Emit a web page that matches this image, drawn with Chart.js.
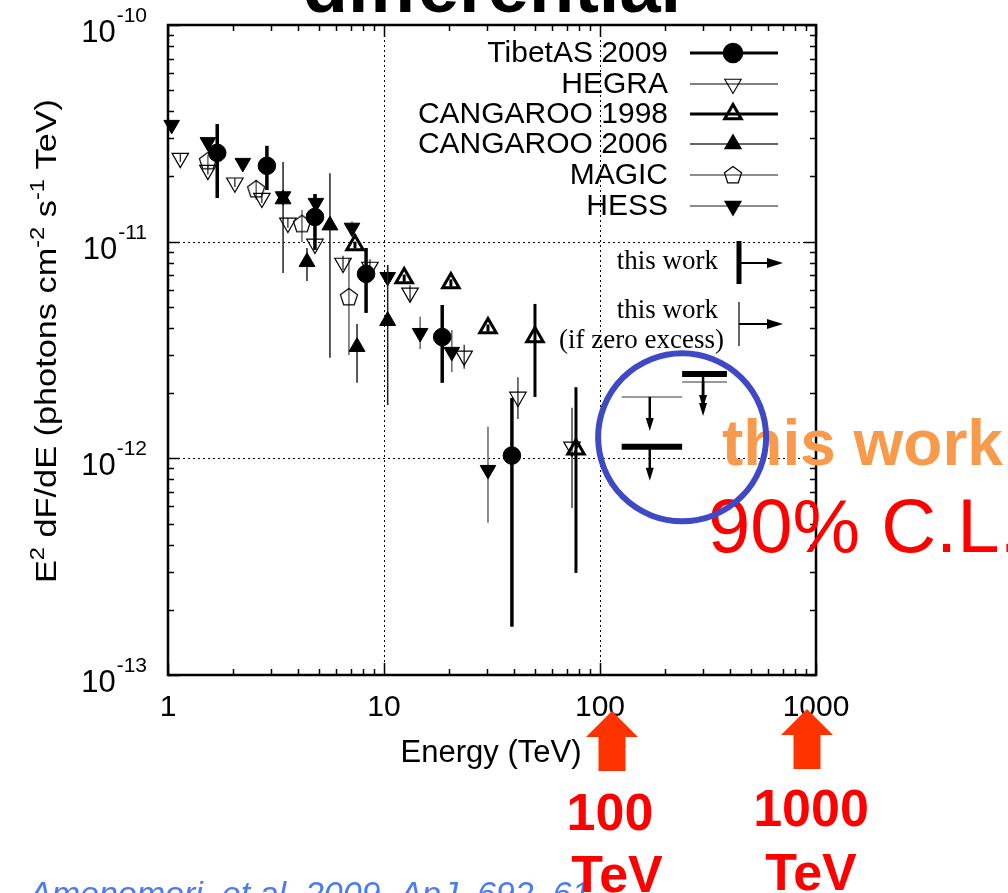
<!DOCTYPE html>
<html>
<head>
<meta charset="utf-8">
<script src="https://cdn.jsdelivr.net/npm/chart.js@4.4.1/dist/chart.umd.min.js"></script>
<style>
html, body { margin: 0; padding: 0; background: #fff; overflow: hidden; }
canvas { display: block; }
</style>
</head>
<body>
<canvas id="c" width="1008" height="893"></canvas>
<script>
// ---- Crab spectrum measurements: energy (TeV), E^2 dF/dE and its error range ----
const TIBET_E  = [1.69, 2.87, 4.79, 8.26, 18.6, 39.1];
const TIBET_F  = [2.57e-11, 2.24e-11, 1.30e-11, 7.1e-12, 3.63e-12, 1.03e-12];
const TIBET_LO = [1.59e-11, 1.73e-11, 9.16e-12, 4.69e-12, 2.23e-12, 1.67e-13];
const TIBET_HI = [3.49e-11, 2.77e-11, 1.66e-11, 9.35e-12, 5.1e-12, 1.9e-12];

const HEGRA_E  = [1.14, 1.53, 2.04, 2.72, 3.59, 4.79, 6.46, 8.61, 13.2, 23.5, 41.7, 74.2];
const HEGRA_F  = [2.43e-11, 2.14e-11, 1.87e-11, 1.59e-11, 1.22e-11, 9.76e-12, 7.97e-12, 7.64e-12, 5.80e-12, 2.97e-12, 1.92e-12, 1.13e-12];
const HEGRA_LO = [2.33e-11, 2.04e-11, 1.79e-11, 1.51e-11, 1.16e-11, 9.2e-12, 7.4e-12, 7.0e-12, 5.27e-12, 2.59e-12, 1.52e-12, 5.9e-13];
const HEGRA_HI = [2.55e-11, 2.25e-11, 1.96e-11, 1.68e-11, 1.29e-11, 1.04e-11, 8.6e-12, 8.3e-12, 6.3e-12, 3.34e-12, 2.37e-12, 1.71e-12];

const CANG98_E  = [7.34, 12.4, 20.4, 30.3, 50.0, 77.4];
const CANG98_F  = [9.66e-12, 6.80e-12, 6.45e-12, 4.0e-12, 3.63e-12, 1.10e-12];
const CANG98_LO = [9.3e-12, 6.55e-12, 6.2e-12, 3.85e-12, 1.92e-12, 2.96e-13];
const CANG98_HI = [1.0e-11, 7.05e-12, 6.7e-12, 4.15e-12, 5.16e-12, 2.13e-12];

const CANG06_E  = [3.41, 4.40, 5.62, 7.50, 10.4];
const CANG06_F  = [1.57e-11, 8.06e-12, 1.19e-11, 3.27e-12, 4.31e-12];
const CANG06_LO = [7.17e-12, 6.59e-12, 2.91e-12, 2.23e-12, 1.76e-12];
const CANG06_HI = [2.33e-11, 9.35e-12, 2.07e-11, 4.17e-12, 7.81e-12];

const MAGIC_E  = [1.53, 2.56, 4.17, 6.88];
const MAGIC_F  = [2.36e-11, 1.75e-11, 1.21e-11, 5.56e-12];
const MAGIC_LO = [2.2e-11, 1.56e-11, 9.97e-12, 3.0e-12];
const MAGIC_HI = [2.52e-11, 1.93e-11, 1.40e-11, 8.41e-12];

const HESS_E  = [1.04, 1.53, 2.22, 3.41, 4.84, 7.11, 10.4, 14.7, 20.6, 30.3];
const HESS_F  = [3.46e-11, 2.88e-11, 2.31e-11, 1.62e-11, 1.51e-11, 1.16e-11, 6.87e-12, 3.79e-12, 3.10e-12, 8.84e-13];
const HESS_LO = [3.35e-11, 2.79e-11, 2.24e-11, 1.55e-11, 1.40e-11, 1.08e-11, 6.3e-12, 3.20e-12, 2.5e-12, 5.04e-13];
const HESS_HI = [3.57e-11, 2.97e-11, 2.38e-11, 1.69e-11, 1.66e-11, 1.24e-11, 7.81e-12, 4.50e-12, 3.91e-12, 1.40e-12];

// 90% C.L. upper limits (this work): energy of arrow, bin edges, flux limit
const UL_E     = [170, 300];
const UL_EMIN  = [126, 240];
const UL_EMAX  = [240, 387];
const UL_F     = [1.13e-12, 2.45e-12];   // standard analysis
const UL0_F    = [1.92e-12, 2.25e-12];   // if zero excess

// axes
const X_MIN = 1, X_MAX = 1000;
const Y_MIN = 1e-13, Y_MAX = 1e-10;
const X_TICK_VALUES = [1, 10, 100, 1000];
const X_TICK_LABELS = ['1', '10', '100', '1000'];
const Y_TICK_VALUES = [1e-10, 1e-11, 1e-12, 1e-13];
const Y_TICK_EXPONENTS = ['-10', '-11', '-12', '-13'];

const SANS = '"Liberation Sans", Arial, Helvetica, sans-serif';
const SERIF = '"Liberation Serif", "Times New Roman", serif';

// open pentagon marker
const pentagon = (() => {
  const c = document.createElement('canvas');
  c.width = 24; c.height = 24;
  const g = c.getContext('2d');
  g.strokeStyle = '#000'; g.lineWidth = 1.2;
  g.beginPath();
  for (let k = 0; k < 5; k++) {
    const a = -Math.PI / 2 + k * 2 * Math.PI / 5;
    const px = 12 + 9 * Math.cos(a), py = 12.5 + 9 * Math.sin(a);
    if (k) g.lineTo(px, py); else g.moveTo(px, py);
  }
  g.closePath(); g.stroke();
  return c;
})();

function points(E, F, LO, HI) {
  return E.map((e, i) => ({ x: e, y: F[i], yMin: LO[i], yMax: HI[i] }));
}
function limits(E, EMIN, EMAX, F) {
  return E.map((e, i) => ({ x: e, y: F[i], xMin: EMIN[i], xMax: EMAX[i] }));
}

function series(label, data, o) {
  return Object.assign({
    label, data, showLine: false, clip: false,
    pointStyle: 'circle', pointRadius: 8, pointRotation: 0,
    backgroundColor: '#000', borderColor: '#000', pointBorderWidth: 1,
    errColor: '#000', errWidth: 1.2, legendColor: '#000', legendWidth: 1.2
  }, o);
}

const datasets = [
  series('TibetAS 2009', points(TIBET_E, TIBET_F, TIBET_LO, TIBET_HI),
    { pointStyle: 'circle', pointRadius: 8.8, errWidth: 3.5, legendWidth: 3 }),
  series('HEGRA', points(HEGRA_E, HEGRA_F, HEGRA_LO, HEGRA_HI),
    { pointStyle: 'triangle', pointRotation: 180, pointRadius: 9.5, backgroundColor: 'rgba(0,0,0,0)',
      pointBorderWidth: 1.2, errWidth: 1.1, legendWidth: 1.1 }),
  series('CANGAROO 1998', points(CANG98_E, CANG98_F, CANG98_LO, CANG98_HI),
    { pointStyle: 'triangle', pointRadius: 9.5, backgroundColor: 'rgba(0,0,0,0)',
      pointBorderWidth: 3, errWidth: 3, legendWidth: 3 }),
  series('CANGAROO 2006', points(CANG06_E, CANG06_F, CANG06_LO, CANG06_HI),
    { pointStyle: 'triangle', pointRadius: 9.2, errColor: '#222', errWidth: 1.5, legendColor: '#333', legendWidth: 1.4 }),
  series('MAGIC', points(MAGIC_E, MAGIC_F, MAGIC_LO, MAGIC_HI),
    { pointStyle: pentagon, errColor: '#666', errWidth: 1.5, legendColor: '#666', legendWidth: 1.5 }),
  series('HESS', points(HESS_E, HESS_F, HESS_LO, HESS_HI),
    { pointStyle: 'triangle', pointRotation: 180, pointRadius: 9, errColor: '#666', errWidth: 1.5,
      legendColor: '#666', legendWidth: 1.5 }),
  { label: 'this work', data: limits(UL_E, UL_EMIN, UL_EMAX, UL_F), upperLimit: true,
    barColor: '#000', barWidth: 6, pointRadius: 0, showLine: false, clip: false },
  { label: 'this work (if zero excess)', data: limits(UL_E, UL_EMIN, UL_EMAX, UL0_F), upperLimit: true,
    barColor: '#777', barWidth: 1.5, pointRadius: 0, showLine: false, clip: false }
];

function arrowDown(ctx, x, y0, len, lw) {
  ctx.lineWidth = lw;
  ctx.beginPath(); ctx.moveTo(x, y0); ctx.lineTo(x, y0 + len - 10); ctx.stroke();
  ctx.beginPath();
  ctx.moveTo(x - 4, y0 + len - 13); ctx.lineTo(x + 4, y0 + len - 13); ctx.lineTo(x, y0 + len);
  ctx.closePath(); ctx.fill();
}
function arrowRight(ctx, x0, x1, y, lw) {
  ctx.lineWidth = lw;
  ctx.beginPath(); ctx.moveTo(x0, y); ctx.lineTo(x1 - 12, y); ctx.stroke();
  ctx.beginPath();
  ctx.moveTo(x1 - 16, y - 5); ctx.lineTo(x1, y); ctx.lineTo(x1 - 16, y + 5);
  ctx.closePath(); ctx.fill();
}

// error bars and upper-limit bars, drawn just before each dataset's markers
const errorBars = {
  id: 'errorBars',
  beforeDatasetDraw(chart, args) {
    const ds = chart.data.datasets[args.index];
    const ctx = chart.ctx, xs = chart.scales.x, ys = chart.scales.y;
    ctx.save();
    if (ds.upperLimit) {
      ctx.strokeStyle = ds.barColor; ctx.fillStyle = '#000';
      ds.data.forEach(p => {
        const y = ys.getPixelForValue(p.y);
        ctx.lineWidth = ds.barWidth;
        ctx.beginPath();
        ctx.moveTo(xs.getPixelForValue(p.xMin), y);
        ctx.lineTo(xs.getPixelForValue(p.xMax), y);
        ctx.stroke();
        ctx.strokeStyle = '#000';
        arrowDown(ctx, xs.getPixelForValue(p.x), y, 34, 2.5);
        ctx.strokeStyle = ds.barColor;
      });
    } else {
      ctx.strokeStyle = ds.errColor; ctx.lineWidth = ds.errWidth;
      ds.data.forEach(p => {
        const x = xs.getPixelForValue(p.x);
        ctx.beginPath();
        ctx.moveTo(x, ys.getPixelForValue(p.yMax));
        ctx.lineTo(x, ys.getPixelForValue(p.yMin));
        ctx.stroke();
      });
    }
    ctx.restore();
  }
};

function decadeTicks(min, max) {
  const out = [];
  const d0 = Math.round(Math.log10(min)), d1 = Math.round(Math.log10(max));
  for (let d = d0; d < d1; d++) for (let k = 1; k <= 9; k++) out.push({ v: k * Math.pow(10, d), major: k === 1 });
  out.push({ v: max, major: true });
  return out;
}

// rich text with raised exponents, centred on (x, y); stretched to `len` px if given
function drawRich(ctx, parts, x, y, base, small, len) {
  let total = 0;
  parts.forEach(p => { ctx.font = (p[1] ? small : base) + 'px ' + SANS; total += ctx.measureText(p[0]).width; });
  ctx.save();
  ctx.translate(x, y);
  if (len) ctx.scale(len / total, 1);
  let cx = -total / 2;
  ctx.textAlign = 'left'; ctx.textBaseline = 'alphabetic';
  parts.forEach(p => {
    ctx.font = (p[1] ? small : base) + 'px ' + SANS;
    ctx.fillText(p[0], cx, p[1] ? -12 : 0);
    cx += ctx.measureText(p[0]).width;
  });
  ctx.restore();
}

// frame, dotted decade grid, inward ticks, labels and key
const axesPlugin = {
  id: 'axesPlugin',
  beforeDatasetsDraw(chart) {
    const { ctx, chartArea: a } = chart, xs = chart.scales.x, ys = chart.scales.y;
    ctx.save();
    ctx.strokeStyle = '#000'; ctx.lineWidth = 1; ctx.setLineDash([2, 3]);
    X_TICK_VALUES.slice(1, -1).forEach(v => {
      const x = Math.round(xs.getPixelForValue(v)) + 0.5;
      ctx.beginPath(); ctx.moveTo(x, a.top); ctx.lineTo(x, a.bottom); ctx.stroke();
    });
    Y_TICK_VALUES.slice(1, -1).forEach(v => {
      const y = Math.round(ys.getPixelForValue(v)) + 0.5;
      ctx.beginPath(); ctx.moveTo(a.left, y); ctx.lineTo(a.right, y); ctx.stroke();
    });
    ctx.restore();
  },
  afterDatasetsDraw(chart) {
    const { ctx, chartArea: a } = chart, xs = chart.scales.x, ys = chart.scales.y;
    ctx.save();
    ctx.strokeStyle = '#000'; ctx.fillStyle = '#000';
    // ticks
    ctx.lineWidth = 1.5;
    decadeTicks(X_MIN, X_MAX).forEach(t => {
      const x = Math.round(xs.getPixelForValue(t.v)) + 0.5, L = t.major ? 12 : 6;
      ctx.beginPath();
      ctx.moveTo(x, a.bottom); ctx.lineTo(x, a.bottom - L);
      ctx.moveTo(x, a.top); ctx.lineTo(x, a.top + L);
      ctx.stroke();
    });
    decadeTicks(Y_MIN, Y_MAX).forEach(t => {
      const y = Math.round(ys.getPixelForValue(t.v)) + 0.5, L = t.major ? 12 : 6;
      ctx.beginPath();
      ctx.moveTo(a.left, y); ctx.lineTo(a.left + L, y);
      ctx.moveTo(a.right, y); ctx.lineTo(a.right - L, y);
      ctx.stroke();
    });
    // frame
    ctx.lineWidth = 2.5;
    ctx.strokeRect(a.left, a.top, a.right - a.left, a.bottom - a.top);

    // x tick labels
    ctx.font = '30px ' + SANS; ctx.textAlign = 'center'; ctx.textBaseline = 'alphabetic';
    X_TICK_VALUES.forEach((v, i) => ctx.fillText(X_TICK_LABELS[i], xs.getPixelForValue(v), a.bottom + 41));
    // y tick labels 10^n
    Y_TICK_VALUES.forEach((v, i) => {
      const y = ys.getPixelForValue(v), right = a.left - 21;
      ctx.textAlign = 'right';
      ctx.font = '21px ' + SANS;
      const we = ctx.measureText(Y_TICK_EXPONENTS[i]).width;
      ctx.fillText(Y_TICK_EXPONENTS[i], right, y - 3);
      ctx.font = '31px ' + SANS;
      ctx.fillText('10', right - we - 1, y + 17);
    });
    // axis titles
    ctx.font = '31px ' + SANS; ctx.textAlign = 'center';
    ctx.fillText('Energy (TeV)', 491, a.bottom + 87);
    ctx.save();
    ctx.translate(56, 341);
    ctx.rotate(-Math.PI / 2);
    drawRich(ctx, [['E'], ['2', 1], [' dF/dE (photons cm'], ['-2', 1], [' s'], ['-1', 1], [' TeV)']], 0, 0, 29, 20, 484);
    ctx.restore();

    // key
    const rows = [53, 84, 114, 144, 175, 206];
    ctx.textAlign = 'right'; ctx.textBaseline = 'middle';
    ctx.font = '30px ' + SANS;
    chart.data.datasets.slice(0, 6).forEach((ds, i) => {
      const y = rows[i];
      ctx.fillStyle = '#000';
      ctx.fillText(ds.label, 668, y + 1);
      ctx.strokeStyle = ds.legendColor; ctx.lineWidth = ds.legendWidth;
      ctx.beginPath(); ctx.moveTo(690, y); ctx.lineTo(778, y); ctx.stroke();
      ctx.fillStyle = ds.backgroundColor; ctx.strokeStyle = ds.borderColor;
      Chart.helpers.drawPoint(ctx, {
        pointStyle: ds.pointStyle, rotation: ds.pointRotation, radius: ds.pointRadius,
        borderWidth: ds.pointBorderWidth
      }, 733, y);
    });
    // upper-limit key
    ctx.fillStyle = '#000'; ctx.strokeStyle = '#000';
    ctx.font = '27px ' + SERIF;
    ctx.fillText('this work', 718, 262);
    ctx.fillText('this work', 718, 311);
    ctx.fillText('(if zero excess)', 724, 341);
    ctx.lineWidth = 5;
    ctx.beginPath(); ctx.moveTo(739, 241); ctx.lineTo(739, 284); ctx.stroke();
    arrowRight(ctx, 739, 783, 263, 2);
    ctx.lineWidth = 1.2;
    ctx.beginPath(); ctx.moveTo(739, 302); ctx.lineTo(739, 346); ctx.stroke();
    arrowRight(ctx, 739, 783, 324, 2);
    ctx.restore();
  }
};

// slide annotations around the chart
const notes = {
  id: 'notes',
  afterDraw(chart) {
    const { ctx, chartArea: a } = chart, xs = chart.scales.x, ys = chart.scales.y;
    ctx.save();
    ctx.fillStyle = '#000'; ctx.textAlign = 'center'; ctx.textBaseline = 'alphabetic';
    ctx.font = 'bold 74px ' + SANS;
    ctx.fillText('differential', (a.left + a.right) / 2, 12);

    ctx.textAlign = 'left';
    ctx.fillStyle = '#F79A4B';
    ctx.font = 'bold 64px ' + SANS;
    ctx.fillText('this work', 722, 465);
    ctx.fillStyle = '#FF0000';
    ctx.font = '76px ' + SANS;
    ctx.fillText('90% C.L.', 708, 552);

    // ring around the upper limits
    ctx.strokeStyle = '#3F48C5'; ctx.lineWidth = 6;
    ctx.beginPath();
    ctx.arc(xs.getPixelForValue(240), ys.getPixelForValue(1.25e-12), 84, 0, 2 * Math.PI);
    ctx.stroke();

    // citation
    ctx.fillStyle = '#4A7BF0';
    ctx.font = 'italic 34px ' + SANS;
    ctx.fillText('Amenomori, et al. 2009, ApJ, 692, 61', 29, 905);

    // red arrows under 100 and 1000 TeV
    ctx.fillStyle = '#FF3300';
    [[xs.getPixelForValue(100) + 12, 711], [xs.getPixelForValue(1000) - 9, 709]].forEach(([x, tip]) => {
      ctx.beginPath();
      ctx.moveTo(x, tip);
      ctx.lineTo(x + 26, tip + 26); ctx.lineTo(x + 13.5, tip + 26); ctx.lineTo(x + 13.5, tip + 60);
      ctx.lineTo(x - 13.5, tip + 60); ctx.lineTo(x - 13.5, tip + 26); ctx.lineTo(x - 26, tip + 26);
      ctx.closePath(); ctx.fill();
    });
    ctx.fillStyle = '#FF0000'; ctx.textAlign = 'center';
    ctx.font = 'bold 52px ' + SANS;
    ctx.fillText('100', 610, 830);
    ctx.fillText('TeV', 617, 892);
    ctx.fillText('1000', 811, 826);
    ctx.fillText('TeV', 811, 890);
    ctx.restore();
  }
};

new Chart(document.getElementById('c'), {
  type: 'scatter',
  data: { datasets },
  options: {
    responsive: false, animation: false, devicePixelRatio: 1, events: [],
    layout: { padding: { left: 168, top: 25, right: 192, bottom: 218 } },
    plugins: { legend: { display: false }, title: { display: false }, tooltip: { enabled: false } },
    scales: {
      x: { type: 'logarithmic', min: X_MIN, max: X_MAX, display: false },
      y: { type: 'logarithmic', min: Y_MIN, max: Y_MAX, display: false }
    }
  },
  plugins: [errorBars, axesPlugin, notes]
});
</script>
</body>
</html>
